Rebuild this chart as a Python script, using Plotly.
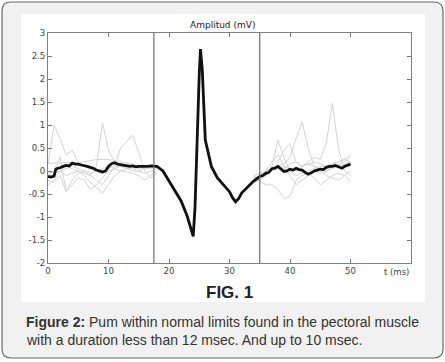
import plotly.graph_objects as go

# ---------------- data ----------------
t_avg = [0, 0.5, 1, 1.3, 1.6, 2, 2.5, 3, 3.5, 4, 4.5, 5, 5.5, 6, 6.5, 7, 7.5, 8, 8.5, 9,
         9.5, 10, 10.5, 11, 11.5, 12, 12.5, 13, 13.5, 14, 14.5, 15, 15.5, 16, 16.5, 17, 17.5, 18,
         19, 20, 21, 22, 23, 23.5, 24, 24.3, 24.6, 25, 25.2, 25.5, 26, 26.5,
         27, 28, 29, 30, 30.5, 31, 31.5, 32, 33, 34,
         35, 35.5, 36, 36.5, 37, 37.5, 38, 38.5, 39, 39.5, 40, 40.5, 41, 41.5, 42, 42.5,
         43, 43.5, 44, 44.5, 45, 45.5, 46, 46.5, 47, 47.5, 48, 48.6, 49, 49.5, 50]
v_avg = [-0.12, -0.13, -0.11, 0.04, 0.06, 0.07, 0.1, 0.12, 0.11, 0.17, 0.15, 0.15, 0.13, 0.12, 0.1, 0.08, 0.06, 0.02, 0.0, -0.02,
         0.0, 0.1, 0.16, 0.18, 0.15, 0.14, 0.12, 0.12, 0.1, 0.11, 0.09, 0.1, 0.1, 0.09, 0.1, 0.11, 0.1, 0.1,
         0.0, -0.22, -0.45, -0.65, -0.98, -1.2, -1.42, -0.8, 0.6, 2.1, 2.65, 2.2, 0.67, 0.35,
         0.1, -0.15, -0.3, -0.45, -0.58, -0.67, -0.6, -0.48, -0.35, -0.22,
         -0.12, -0.1, -0.05, -0.03, 0.05, 0.06, 0.1, 0.05, -0.01, 0.0, 0.04, 0.02, 0.06, 0.03, 0.02, -0.03,
         -0.07, -0.04, 0.0, 0.02, 0.04, 0.03, 0.08, 0.1, 0.1, 0.12, 0.1, 0.06, 0.1, 0.12, 0.15]

t_left = list(range(0, 19))
t_right = list(range(34, 51))

gray_left = [
    [0.15, 1.0, 0.7, 0.35, 0.45, 0.2, 0.1, 0.05, 0.0, -0.05, 0.05, 0.1, 0.1, 0.15, 0.1, 0.05, 0.1, 0.1, 0.1],
    [-0.2, -0.25, -0.1, -0.45, -0.2, -0.05, 0.0, -0.1, 0.1, 1.05, 0.45, 0.2, 0.1, 0.05, 0.0, 0.0, 0.05, 0.08, 0.1],
    [-0.05, 0.0, 0.05, 0.1, 0.05, 0.0, -0.05, -0.1, -0.2, -0.3, -0.1, 0.1, 0.5, 0.65, 0.78, 0.4, 0.0, -0.15, -0.05],
    [0.17, 0.17, 0.17, 0.17, 0.17, 0.18, 0.2, 0.22, 0.25, 0.25, 0.25, 0.22, 0.2, 0.18, 0.15, 0.12, 0.1, 0.1, 0.1],
    [-0.3, -0.2, 0.0, -0.1, -0.05, 0.0, -0.1, -0.25, -0.35, -0.48, -0.3, -0.1, 0.0, 0.05, 0.05, 0.0, -0.05, 0.0, 0.05],
    [-0.1, 0.0, 0.3, -0.45, -0.3, -0.15, -0.2, -0.41, -0.3, -0.15, 0.0, 0.05, 0.1, 0.12, 0.1, 0.08, 0.05, 0.05, 0.08],
    [0.0, -0.05, 0.0, 0.05, 0.1, 0.05, 0.0, -0.05, 0.0, 0.05, 0.1, 0.05, 0.0, -0.02, -0.05, -0.1, -0.2, -0.1, 0.0],
]
gray_right = [
    [-0.2, -0.15, -0.1, 0.1, 0.67, 0.3, 0.0, -0.1, -0.05, 0.0, 0.05, 0.1, 0.1, 0.15, 0.2, 0.25, 0.35],
    [-0.2, -0.1, 0.0, 0.05, 0.2, 0.45, 0.6, 0.2, 0.1, 0.15, 0.1, 0.05, 0.0, 0.05, 0.1, 0.15, 0.2],
    [-0.25, -0.2, -0.1, 0.0, 0.1, 0.15, 0.3, 0.7, 1.07, 0.5, 0.1, 0.0, -0.1, -0.15, -0.2, -0.1, 0.0],
    [-0.15, -0.1, -0.05, 0.0, 0.05, 0.1, 0.05, 0.0, 0.1, 0.2, 0.3, 0.25, 0.6, 1.47, 0.5, 0.0, -0.1],
    [-0.1, -0.2, -0.3, -0.3, -0.4, -0.6, -0.55, -0.2, -0.1, -0.05, -0.15, -0.3, -0.2, -0.1, -0.05, -0.1, -0.23],
    [-0.15, -0.1, 0.0, 0.2, 0.35, 0.1, -0.1, -0.3, -0.2, -0.1, 0.0, -0.05, 0.0, 0.1, 0.15, 0.2, 0.3],
    [-0.1, -0.05, 0.0, 0.05, 0.1, 0.05, 0.15, 0.2, 0.1, 0.15, 0.2, 0.15, 0.1, 0.15, 0.2, 0.25, 0.2],
]

x_ticks = [0, 10, 20, 30, 40, 50]
x_ticktext = ["0", "10", "20", "30", "40", "50"]
y_ticks = [3, 2.5, 2, 1.5, 1, 0.5, 0, -0.5, -1, -1.5, -2]
y_ticktext = ["3", "2.5", "2", "1.5", "1", "0.5", "0", "-0.5", "-1", "-1.5", "-2"]
marker_lines = [17.5, 35]

# ---------------- figure ----------------
W, H = 445, 362
L, R, T, B = 48, 411, 33, 263
pw, ph = R - L, B - T

def px(x):
    return (x - L) / pw

def py(y):
    return (B - y) / ph

fig = go.Figure()

for lv, rv in zip(gray_left, gray_right):
    fig.add_trace(go.Scatter(x=t_left + [None] + t_right, y=lv + [None] + rv,
                             mode="lines", line=dict(color="#d4d4d4", width=1),
                             connectgaps=False, hoverinfo="skip", showlegend=False))

fig.add_trace(go.Scatter(x=t_avg, y=v_avg, mode="lines",
                         line=dict(color="#111111", width=2.8),
                         showlegend=False))

shapes = []
# outer rounded frame
x0, x1, y0, y1 = px(2), px(443), py(2), py(358)
rx, ry = 9 / pw, 9 / ph
path = (f"M {x0+rx},{y0} L {x1-rx},{y0} Q {x1},{y0} {x1},{y0-ry} "
        f"L {x1},{y1+ry} Q {x1},{y1} {x1-rx},{y1} L {x0+rx},{y1} "
        f"Q {x0},{y1} {x0},{y1+ry} L {x0},{y0-ry} Q {x0},{y0} {x0+rx},{y0} Z")
shapes.append(dict(type="path", path=path, xref="paper", yref="paper",
                   fillcolor="#f1f1f1", line=dict(color="#6a6a6a", width=1.2), layer="below"))
# white panel
shapes.append(dict(type="rect", xref="paper", yref="paper", x0=px(21), x1=px(425),
                   y0=py(302), y1=py(14), fillcolor="white", line=dict(width=0), layer="below"))
for xv in marker_lines:
    shapes.append(dict(type="line", xref="x", yref="paper", x0=xv, x1=xv, y0=0, y1=1,
                       line=dict(color="#6e6e6e", width=1.2)))

tick_font = dict(family="DejaVu Sans", size=8.5, color="#444444")
annotations = [
    dict(text="Amplitud (mV)", x=px(222), y=py(25), xref="paper", yref="paper",
         xanchor="center", yanchor="middle",
         showarrow=False, font=dict(family="DejaVu Sans", size=9, color="#222222")),
    dict(text="t (ms)", x=60, y=py(272), xref="x", yref="paper", xanchor="right", yanchor="middle",
         showarrow=False, font=tick_font),
    dict(text="<b>FIG. 1</b>", x=px(230), y=py(292), xref="paper", yref="paper",
         xanchor="center", yanchor="middle",
         showarrow=False, font=dict(family="Liberation Sans", size=17, color="#222222")),
    dict(text="<b>Figure 2:</b> Pum within normal limits found in the pectoral muscle",
         x=px(24), y=py(322), xref="paper", yref="paper", xanchor="left", yanchor="middle",
         showarrow=False, font=dict(family="Liberation Sans", size=14, color="#333333")),
    dict(text="with a duration less than 12 msec. And up to 10 msec.",
         x=px(24), y=py(340), xref="paper", yref="paper", xanchor="left", yanchor="middle",
         showarrow=False, font=dict(family="Liberation Sans", size=14, color="#333333")),
]

fig.update_layout(
    width=W, height=H,
    margin=dict(l=L, r=W - R, t=T, b=H - B),
    paper_bgcolor="white", plot_bgcolor="white",
    shapes=shapes, annotations=annotations,
    xaxis=dict(range=[0, 60], tickvals=x_ticks, ticktext=x_ticktext, ticks="inside",
               ticklen=4, tickcolor="#777777", showline=True, linecolor="#808080",
               linewidth=1.2, mirror="ticks", showgrid=False, zeroline=False,
               tickfont=tick_font),
    yaxis=dict(range=[-2, 3], tickvals=y_ticks, ticktext=y_ticktext, ticks="inside",
               ticklen=4, tickcolor="#777777", showline=True, linecolor="#808080",
               linewidth=1.2, mirror="ticks", showgrid=False, zeroline=False,
               tickfont=tick_font),
    hovermode=False,
)

fig.write_html("out.html", config={"displayModeBar": False},
               post_script="document.body.style.margin='0';document.body.style.overflow='hidden';")
